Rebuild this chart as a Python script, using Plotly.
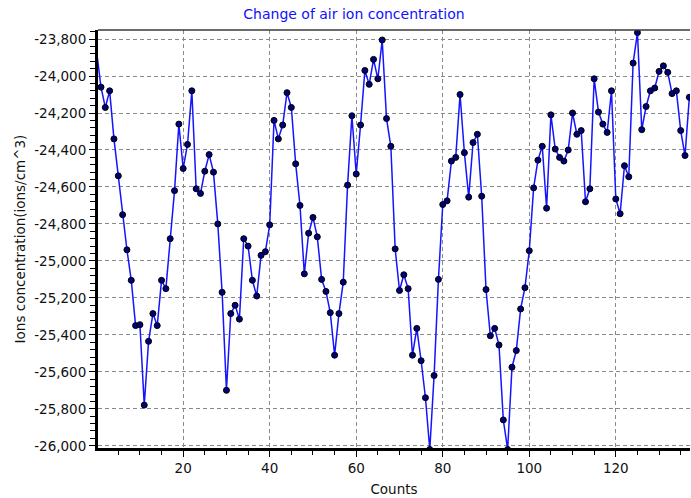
import plotly.graph_objects as go

# ---- data ----
counts = list(range(0, 138))
ion_conc = [
    -23870,
    -24060, -24170, -24080, -24340, -24540, -24750, -24940, -25105, -25350, -25345,
    -25780, -25435, -25285, -25350, -25105, -25150, -24880, -24620, -24260, -24500,
    -24370, -24080, -24610, -24635, -24515, -24425, -24520, -24800, -25170, -25700,
    -25285, -25240, -25315, -24880, -24920, -25105, -25190, -24970, -24950, -24805,
    -24240, -24340, -24265, -24090, -24170, -24475, -24700, -25070, -24850, -24765,
    -24870, -25100, -25165, -25280, -25510, -25285, -25115, -24590, -24215, -24530,
    -24265, -23970, -24045, -23910, -24015, -23805, -24230, -24380, -24935, -25160,
    -25075, -25150, -25510, -25365, -25540, -25740, -26020, -25620, -25100, -24695,
    -24675, -24460, -24440, -24100, -24415, -24655, -24360, -24315, -24650, -25155,
    -25405, -25365, -25455, -25860, -26020, -25575, -25485, -25260, -25145, -24945,
    -24605, -24455, -24380, -24715, -24210, -24395, -24440, -24460, -24400, -24200,
    -24315, -24295, -24680, -24610, -24015, -24195, -24260, -24305, -24080, -24665,
    -24745, -24485, -24545, -23930, -23765, -24290, -24165, -24080, -24065, -23975,
    -23945, -23980, -24095, -24080, -24295, -24430, -24115,
]

x_tickvals = [20, 40, 60, 80, 100, 120]
x_ticktext = ["20", "40", "60", "80", "100", "120"]
y_tickvals = [-26000, -25800, -25600, -25400, -25200, -25000, -24800,
              -24600, -24400, -24200, -24000, -23800]
y_ticktext = ["-26,000", "-25,800", "-25,600", "-25,400", "-25,200", "-25,000",
              "-24,800", "-24,600", "-24,400", "-24,200", "-24,000", "-23,800"]

title_text = "Change of air ion concentration"
x_title = "Counts"
y_title = "Ions concentration(ions/cm^3)"

FONT = "DejaVu Sans"

fig = go.Figure()
# connecting line (includes the lead-in point that lies just left of the visible range)
fig.add_trace(go.Scatter(
    x=counts, y=ion_conc,
    mode="lines",
    line=dict(color="#1414ff", width=1.5),
    showlegend=False, hoverinfo="skip",
))
# point markers
fig.add_trace(go.Scatter(
    x=counts[1:], y=ion_conc[1:],
    mode="markers",
    marker=dict(symbol="circle", size=6, color="#00007a",
                line=dict(color="black", width=1)),
    showlegend=False,
))

grid_common = dict(
    showgrid=True, gridcolor="#8a8a8a", gridwidth=1, griddash="4px,3px",
    showline=True, linecolor="black", linewidth=3,
    ticks="outside", tickwidth=1, tickcolor="black",
    zeroline=False,
    tickfont=dict(family=FONT, size=13.5, color="#111111"),
)

fig.update_xaxes(
    range=[0.31, 137.15],
    tickmode="array", tickvals=x_tickvals, ticktext=x_ticktext, ticklen=6,
    minor=dict(tickmode="linear", tick0=0, dtick=5, ticks="outside",
               ticklen=4, tickcolor="black", showgrid=False),
    title=dict(text=x_title, font=dict(family=FONT, size=13.5, color="#111111"),
               standoff=10),
    automargin=False,
    **grid_common,
)
fig.update_yaxes(
    range=[-26012, -23751],
    tickmode="array", tickvals=y_tickvals, ticktext=y_ticktext, ticklen=6,
    minor=dict(tickmode="linear", tick0=-26000, dtick=40, ticks="outside",
               ticklen=5, tickcolor="black", showgrid=False),
    title=dict(text=y_title, font=dict(family=FONT, size=13.5, color="#111111"),
               standoff=6),
    automargin=False,
    **grid_common,
)

fig.add_shape(type="line", xref="paper", yref="paper", x0=0, x1=1, y0=1, y1=1,
              line=dict(color="#3a3a3a", width=1.5), layer="above")

fig.update_layout(
    width=691, height=498,
    margin=dict(l=98, r=1, t=30, b=50, pad=0),
    paper_bgcolor="white", plot_bgcolor="white",
    title=dict(text=title_text, x=354 / 691, xanchor="center",
               y=1 - 14 / 498, yanchor="middle", xref="container", yref="container",
               font=dict(family=FONT, size=14, color="#1010ff")),
    font=dict(family=FONT),
)

fig.write_html("out.html", config={"displayModeBar": False},
               post_script="document.body.style.margin='0px';")
